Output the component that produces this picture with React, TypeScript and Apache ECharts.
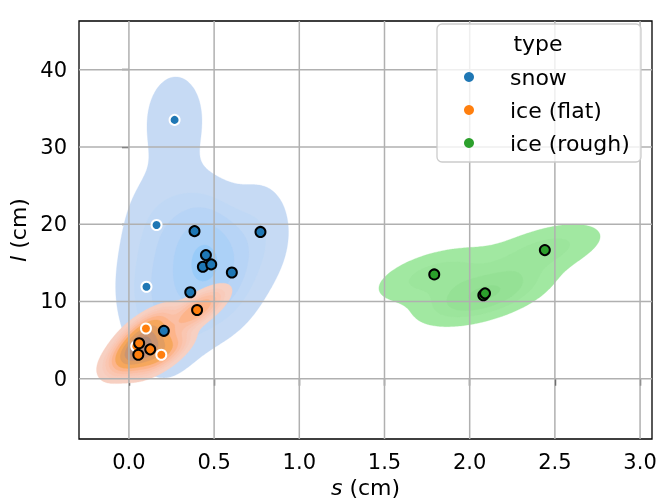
import React, { useEffect, useRef } from 'react';
import * as echarts from 'echarts';

// ---------- data ----------
const typeNames = ['snow', 'ice (flat)', 'ice (rough)'];
const typeColors = ['#1f77b4', '#ff7f0e', '#2ca02c'];

const snowBlackX = [0.385, 0.772, 0.452, 0.434, 0.483, 0.604, 0.36, 0.205];
const snowBlackY = [19.1, 19.0, 16.0, 14.5, 14.8, 13.75, 11.2, 6.2];
const snowWhiteX = [0.268, 0.162, 0.103];
const snowWhiteY = [33.5, 19.9, 11.9];

const flatBlackX = [0.4, 0.06, 0.125, 0.055];
const flatBlackY = [8.9, 4.6, 3.8, 3.1];
const flatWhiteX = [0.1, 0.19, 0.043];
const flatWhiteY = [6.5, 3.1, 4.2];

const roughBlackX = [1.792, 2.08, 2.09, 2.441];
const roughBlackY = [13.5, 10.8, 11.05, 16.65];

const xTicks = [0, 0.5, 1.0, 1.5, 2.0, 2.5, 3.0];
const yTicks = [0, 10, 20, 30, 40];
const xMin = -0.293, xMax = 3.07;
const yMin = -7.8, yMax = 46.3;

const FONT = 'DejaVu Sans';
const FILL_ALPHA = 0.65;

// ---------- HUSL (seaborn's version) ----------
const M = [[3.2406, -1.5372, -0.4986], [-0.9689, 1.8758, 0.0415], [0.0557, -0.204, 1.057]];
const MINV = [[0.4124, 0.3576, 0.1805], [0.2126, 0.7152, 0.0722], [0.0193, 0.1192, 0.9505]];
const REF_U = 0.19784, REF_V = 0.46834, LAB_E = 0.008856, LAB_K = 903.3;

function maxChroma(L: number, H: number) {
  const hrad = (H * Math.PI) / 180;
  const sinH = Math.sin(hrad), cosH = Math.cos(hrad);
  const sub1 = Math.pow(L + 16, 3) / 1560896;
  const sub2 = sub1 > 0.008856 ? sub1 : L / 903.3;
  let result = Infinity;
  for (const [m1, m2, m3] of M) {
    const top = (0.99915 * m1 + 1.05122 * m2 + 1.1446 * m3) * sub2;
    const rb = 0.8633 * m3 - 0.17266 * m2;
    const lb = 0.12949 * m3 - 0.38848 * m1;
    const bottom = (rb * sinH + lb * cosH) * sub2;
    for (const t of [0, 1]) {
      const C = (L * (top - 1.05122 * t)) / (bottom + 0.17266 * sinH * t);
      if (C > 0 && C < result) result = C;
    }
  }
  return result;
}
function toLinear(c: number) { return c > 0.04045 ? Math.pow((c + 0.055) / 1.055, 2.4) : c / 12.92; }
function fromLinear(c: number) { return c <= 0.0031308 ? 12.92 * c : 1.055 * Math.pow(c, 1 / 2.4) - 0.055; }
function rgbToHusl(r: number, g: number, b: number) {
  const lin = [toLinear(r), toLinear(g), toLinear(b)];
  const [X, Y, Z] = MINV.map((row) => row[0] * lin[0] + row[1] * lin[1] + row[2] * lin[2]);
  const den = X + 15 * Y + 3 * Z;
  const vu = (4 * X) / den, vv = (9 * Y) / den;
  const fy = Y > LAB_E ? Math.pow(Y, 1 / 3) : 7.787 * Y + 16 / 116;
  const L = 116 * fy - 16;
  const U = 13 * L * (vu - REF_U), V = 13 * L * (vv - REF_V);
  const C = Math.sqrt(U * U + V * V);
  let H = (Math.atan2(V, U) * 180) / Math.PI;
  if (H < 0) H += 360;
  const S = (C / maxChroma(L, H)) * 100;
  return [H, S, L];
}
function huslToRgb(H: number, S: number, L: number) {
  if (L > 99.9999999) return [1, 1, 1];
  if (L < 1e-8) return [0, 0, 0];
  const C = (maxChroma(L, H) / 100) * S;
  const hrad = (H * Math.PI) / 180;
  const U = Math.cos(hrad) * C, V = Math.sin(hrad) * C;
  const t = (L + 16) / 116;
  const Y = t * t * t > LAB_E ? t * t * t : (116 * t - 16) / LAB_K;
  const vu = U / (13 * L) + REF_U, vv = V / (13 * L) + REF_V;
  const X = 0 - (9 * Y * vu) / ((vu - 4) * vv - vu * vv);
  const Z = (9 * Y - 15 * vv * Y - vv * X) / (3 * vv);
  return M.map((row) => Math.min(1, Math.max(0, fromLinear(row[0] * X + row[1] * Y + row[2] * Z))));
}
function hexToRgb(hex: string) {
  const n = parseInt(hex.slice(1), 16);
  return [((n >> 16) & 255) / 255, ((n >> 8) & 255) / 255, (n & 255) / 255];
}
function rampColor(hex: string, t: number) {
  const [r, g, b] = hexToRgb(hex);
  const [h, s] = rgbToHusl(r, g, b);
  const k = Math.max(0, Math.min(255, Math.floor(t * 256)));
  const j = 255 - k;
  const xx = -1 + (2 * j) / 293;
  const L = 35 + (45 * j) / 255;
  const rgb = huslToRgb(h, s * Math.cos(xx), L);
  // pre-blend with white to emulate the translucent fill
  return `rgb(${rgb.map((v) => Math.round(255 * (FILL_ALPHA * v + (1 - FILL_ALPHA)))).join(',')})`;
}

// ---------- KDE (scipy / seaborn defaults) ----------
const GS = 200;
function kdeGrid(xs: number[], ys: number[], weight: number) {
  const n = xs.length;
  const mx = xs.reduce((a, b) => a + b, 0) / n;
  const my = ys.reduce((a, b) => a + b, 0) / n;
  let sxx = 0, syy = 0, sxy = 0;
  for (let i = 0; i < n; i++) {
    const dx = xs[i] - mx, dy = ys[i] - my;
    sxx += dx * dx; syy += dy * dy; sxy += dx * dy;
  }
  sxx /= n - 1; syy /= n - 1; sxy /= n - 1;
  const f2 = Math.pow(n, -1 / 3);
  const kxx = sxx * f2, kyy = syy * f2, kxy = sxy * f2;
  const det = kxx * kyy - kxy * kxy;
  const ixx = kyy / det, iyy = kxx / det, ixy = -kxy / det;
  const norm = weight / (n * 2 * Math.PI * Math.sqrt(det));
  const bwx = Math.sqrt(kxx), bwy = Math.sqrt(kyy);
  const x0 = Math.min(...xs) - 3 * bwx, x1 = Math.max(...xs) + 3 * bwx;
  const y0 = Math.min(...ys) - 3 * bwy, y1 = Math.max(...ys) + 3 * bwy;
  const gx: number[] = [], gy: number[] = [];
  for (let i = 0; i < GS; i++) {
    gx.push(x0 + ((x1 - x0) * i) / (GS - 1));
    gy.push(y0 + ((y1 - y0) * i) / (GS - 1));
  }
  const vals = new Float64Array(GS * GS);
  for (let j = 0; j < GS; j++) {
    for (let i = 0; i < GS; i++) {
      let s = 0;
      for (let k = 0; k < n; k++) {
        const dx = gx[i] - xs[k], dy = gy[j] - ys[k];
        s += Math.exp(-0.5 * (ixx * dx * dx + 2 * ixy * dx * dy + iyy * dy * dy));
      }
      vals[j * GS + i] = s * norm;
    }
  }
  return { gx, gy, vals };
}

function contourRings(gx: number[], gy: number[], vals: Float64Array, level: number) {
  const NX = GS + 2, NY = GS + 2;
  const dx = gx[1] - gx[0], dy = gy[1] - gy[0];
  const X = (i: number) => gx[0] + (i - 1) * dx;
  const Y = (j: number) => gy[0] + (j - 1) * dy;
  const V = (i: number, j: number) => (i < 1 || j < 1 || i > GS || j > GS ? 0 : vals[(j - 1) * GS + (i - 1)]);
  const adj = new Map<number, number[]>();
  const pos = new Map<number, number[]>();
  const interp = (x0: number, y0: number, v0: number, x1: number, y1: number, v1: number) => {
    const t = (level - v0) / (v1 - v0);
    return [x0 + t * (x1 - x0), y0 + t * (y1 - y0)];
  };
  const addSeg = (k1: number, k2: number) => {
    if (!adj.has(k1)) adj.set(k1, []);
    if (!adj.has(k2)) adj.set(k2, []);
    adj.get(k1)!.push(k2);
    adj.get(k2)!.push(k1);
  };
  for (let j = 0; j < NY - 1; j++) {
    for (let i = 0; i < NX - 1; i++) {
      const a = V(i, j), b = V(i + 1, j), c = V(i + 1, j + 1), d = V(i, j + 1);
      const code = (a >= level ? 1 : 0) | (b >= level ? 2 : 0) | (c >= level ? 4 : 0) | (d >= level ? 8 : 0);
      if (code === 0 || code === 15) continue;
      const kB = (i * NY + j) * 2, kT = (i * NY + j + 1) * 2;
      const kL = (i * NY + j) * 2 + 1, kR = ((i + 1) * NY + j) * 2 + 1;
      const B = () => { if (!pos.has(kB)) pos.set(kB, interp(X(i), Y(j), a, X(i + 1), Y(j), b)); return kB; };
      const R = () => { if (!pos.has(kR)) pos.set(kR, interp(X(i + 1), Y(j), b, X(i + 1), Y(j + 1), c)); return kR; };
      const T = () => { if (!pos.has(kT)) pos.set(kT, interp(X(i), Y(j + 1), d, X(i + 1), Y(j + 1), c)); return kT; };
      const Lf = () => { if (!pos.has(kL)) pos.set(kL, interp(X(i), Y(j), a, X(i), Y(j + 1), d)); return kL; };
      const center = (a + b + c + d) / 4 >= level;
      switch (code) {
        case 1: case 14: addSeg(Lf(), B()); break;
        case 2: case 13: addSeg(B(), R()); break;
        case 3: case 12: addSeg(Lf(), R()); break;
        case 4: case 11: addSeg(R(), T()); break;
        case 6: case 9: addSeg(B(), T()); break;
        case 7: case 8: addSeg(Lf(), T()); break;
        case 5:
          if (center) { addSeg(B(), R()); addSeg(T(), Lf()); } else { addSeg(Lf(), B()); addSeg(R(), T()); }
          break;
        case 10:
          if (center) { addSeg(Lf(), B()); addSeg(R(), T()); } else { addSeg(B(), R()); addSeg(T(), Lf()); }
          break;
      }
    }
  }
  const rings: number[][][] = [];
  const visited = new Set<number>();
  for (const start of adj.keys()) {
    if (visited.has(start)) continue;
    const ring: number[][] = [];
    let prev = -1, cur = start;
    for (let guard = 0; guard < 200000; guard++) {
      visited.add(cur);
      ring.push(pos.get(cur)!);
      const nb = adj.get(cur)!;
      const next = nb[0] !== prev ? nb[0] : nb[1];
      if (next === undefined || next === start || visited.has(next)) break;
      prev = cur;
      cur = next;
    }
    if (ring.length >= 3) rings.push(ring);
  }
  return rings;
}

function buildContours() {
  const groupsX = [snowBlackX.concat(snowWhiteX), flatBlackX.concat(flatWhiteX), roughBlackX];
  const groupsY = [snowBlackY.concat(snowWhiteY), flatBlackY.concat(flatWhiteY), roughBlackY];
  const total = groupsX.reduce((s, g) => s + g.length, 0);
  const grids = groupsX.map((gxs, g) => kdeGrid(gxs, groupsY[g], gxs.length / total));
  const all = new Float64Array(grids.length * GS * GS);
  grids.forEach((g, k) => all.set(g.vals, k * GS * GS));
  const sorted = Array.from(all).sort((a, b) => b - a);
  const sum = sorted.reduce((a, b) => a + b, 0);
  const cum: number[] = [];
  let acc = 0;
  for (const v of sorted) { acc += v; cum.push(acc / sum); }
  const iso = Array.from({ length: 10 }, (_, k) => 0.05 + (k * 0.95) / 9);
  const levels = iso.map((q) => {
    const target = 1 - q;
    let lo = 0, hi = cum.length;
    while (lo < hi) { const mid = (lo + hi) >> 1; if (cum[mid] < target) lo = mid + 1; else hi = mid; }
    return sorted[Math.min(lo, sorted.length - 1)];
  });
  const L0 = levels[0], L9 = levels[9];
  return grids.map((g, gi) => {
    const out: { pts: number[][]; color: string }[] = [];
    for (let k = 0; k < 9; k++) {
      const mid = (levels[k] + levels[k + 1]) / 2;
      const color = rampColor(typeColors[gi], (mid - L0) / (L9 - L0));
      for (const r of contourRings(g.gx, g.gy, g.vals, levels[k])) out.push({ pts: r, color });
    }
    return out;
  });
}

function zip(xs: number[], ys: number[]) { return xs.map((x, i) => [x, ys[i]]); }

function buildOption() {
  const contours = buildContours();
  const contourSeries = contours.map((rings, gi) => ({
    type: 'custom',
    name: 'kde-' + gi,
    silent: true,
    clip: true,
    z: 1,
    data: rings.map((_, i) => [i, 0]),
    renderItem: (params: any, api: any) => {
      const r = rings[params.dataIndex];
      return {
        type: 'polygon',
        shape: { points: r.pts.map((p) => api.coord(p)) },
        style: { fill: r.color, stroke: r.color, lineWidth: 0.3 },
      };
    },
  }));
  const gridStyle = { stroke: '#b0b0b0', lineWidth: 1.5 };
  const gridSeries = [
    {
      type: 'custom', name: 'gx', silent: true, clip: true, z: 2,
      data: xTicks.map((v) => [v, 0]),
      renderItem: (_p: any, api: any) => {
        const a = api.coord([api.value(0), yMin]);
        const b = api.coord([api.value(0), yMax]);
        return { type: 'line', shape: { x1: a[0], y1: a[1], x2: b[0], y2: b[1] }, style: gridStyle };
      },
    },
    {
      type: 'custom', name: 'gy', silent: true, clip: true, z: 2,
      data: yTicks.map((v) => [0, v]),
      renderItem: (_p: any, api: any) => {
        const a = api.coord([xMin, api.value(1)]);
        const b = api.coord([xMax, api.value(1)]);
        return { type: 'line', shape: { x1: a[0], y1: a[1], x2: b[0], y2: b[1] }, style: gridStyle };
      },
    },
  ];
  const sc = (name: string, color: string, edge: string, data: number[][]) => ({
    type: 'scatter', name, data, symbol: 'circle', symbolSize: 10, z: 3, silent: true,
    itemStyle: { color, borderColor: edge, borderWidth: 2, opacity: 1 },
  });
  const scatterSeries = [
    sc(typeNames[0], typeColors[0], '#ffffff', zip(snowWhiteX, snowWhiteY)),
    sc(typeNames[0], typeColors[0], '#000000', zip(snowBlackX, snowBlackY)),
    sc(typeNames[1], typeColors[1], '#ffffff', zip(flatWhiteX, flatWhiteY)),
    sc(typeNames[1], typeColors[1], '#000000', zip(flatBlackX, flatBlackY)),
    sc(typeNames[2], typeColors[2], '#000000', zip(roughBlackX, roughBlackY)),
  ];
  const tickStyle = { color: '#000', width: 1.3 };
  return {
    animation: false,
    grid: { left: 79, top: 21, width: 573, height: 418, show: true, borderColor: '#000', borderWidth: 1.3, backgroundColor: 'transparent', outerBoundsMode: 'none' },
    xAxis: {
      type: 'value', min: xMin, max: xMax,
      axisLine: { show: false }, splitLine: { show: false },
      axisTick: { show: true, customValues: xTicks, length: 7, lineStyle: tickStyle },
      axisLabel: { customValues: xTicks, formatter: (v: number) => v.toFixed(1), fontSize: 21, color: '#000', fontFamily: FONT, margin: 12 },
      name: '{i|s} (cm)', nameLocation: 'middle', nameGap: 36,
      nameTextStyle: { fontSize: 22, color: '#000', fontFamily: FONT, rich: { i: { fontStyle: 'italic', fontSize: 22, fontFamily: FONT, color: '#000' } } },
    },
    yAxis: {
      type: 'value', min: yMin, max: yMax,
      axisLine: { show: false }, splitLine: { show: false },
      axisTick: { show: true, customValues: yTicks, length: 7, lineStyle: tickStyle },
      axisLabel: { customValues: yTicks, formatter: (v: number) => String(v), fontSize: 21, color: '#000', fontFamily: FONT, margin: 12 },
      name: '{i|l} (cm)', nameLocation: 'middle', nameGap: 46,
      nameTextStyle: { fontSize: 22, color: '#000', fontFamily: FONT, rich: { i: { fontStyle: 'italic', fontSize: 22, fontFamily: FONT, color: '#000' } } },
    },
    legend: {
      data: typeNames, orient: 'vertical', left: 464, top: 65, itemWidth: 72, itemHeight: 10, itemGap: 9,
      icon: 'circle', padding: 0, selectedMode: false, z: 20,
      textStyle: { fontSize: 22, fontFamily: FONT, color: '#000', lineHeight: 24, width: 60, overflow: 'none' },
      itemStyle: { borderWidth: 0 },
    },
    graphic: [
      {
        type: 'rect', z: 15, silent: true,
        shape: { x: 437, y: 24, width: 204, height: 138, r: 5 },
        style: { fill: 'rgba(255,255,255,0.8)', stroke: '#cccccc', lineWidth: 1.3 },
      },
      {
        type: 'text', z: 16, x: 538, y: 43, silent: true,
        style: { text: 'type', fontSize: 22, fontFamily: FONT, fill: '#000', align: 'center', verticalAlign: 'middle' },
      },
    ],
    series: [...contourSeries, ...gridSeries, ...scatterSeries],
  };
}

export default function App() {
  const ref = useRef<HTMLDivElement>(null);
  useEffect(() => {
    const chart = echarts.init(ref.current!, null, { renderer: 'svg' });
    chart.setOption(buildOption() as any);
    return () => chart.dispose();
  }, []);
  return <div ref={ref} style={{ position: 'fixed', left: 0, top: 0, width: 660, height: 500 }} />;
}
